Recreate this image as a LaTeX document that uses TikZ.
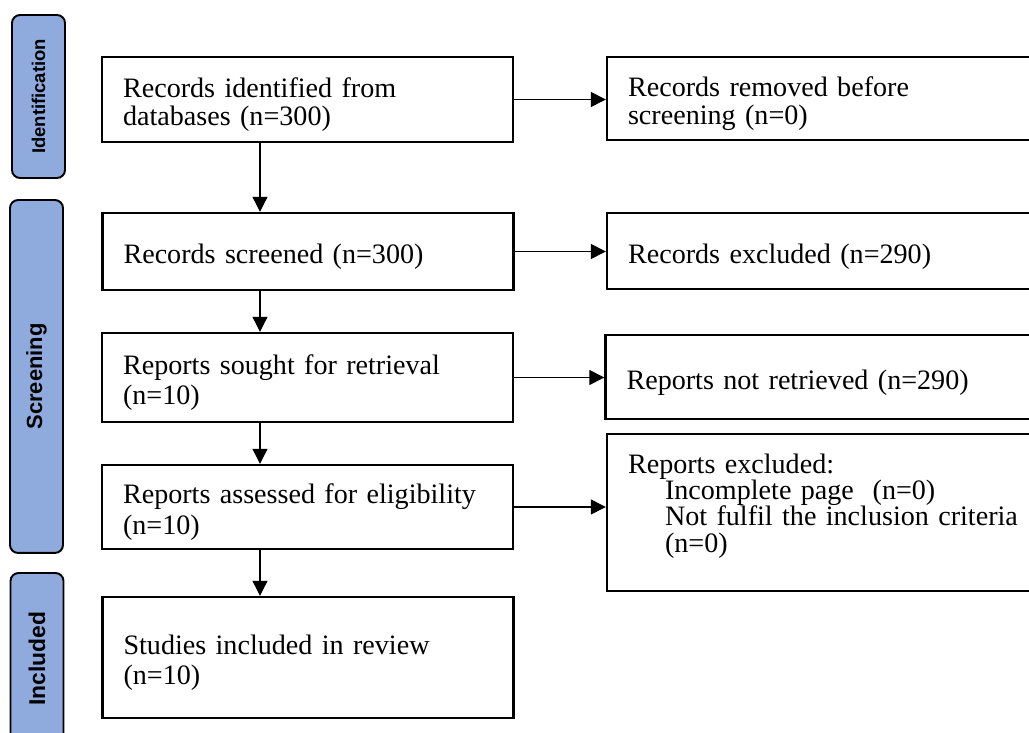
\documentclass[tikz,border=0pt]{standalone}
\usepackage{fontspec}
\setmainfont{Liberation Serif}
\newfontfamily\sidefont{Liberation Sans}
\usetikzlibrary{arrows.meta}
\definecolor{phaseblue}{RGB}{143,170,220}

\begin{document}
\begin{tikzpicture}[x=0.02cm,y=-0.02cm]
                \tikzstyle{box} = [rectangle, draw=black, line width=1.4pt, align=left, inner xsep=0.42cm, inner ysep=0pt, text height=0.6cm, font=\fontsize{16}{17.5}\selectfont]
                \tikzstyle{leftbox} = [box, text width=7.38cm]
                \tikzstyle{rightbox} = [box, text width=7.82cm]
                \tikzstyle{phase} = [rectangle, rounded corners=0.16cm, draw=black, line width=1.1pt, fill=phaseblue, rotate=90, minimum height=1.06cm, inner sep=0pt]
                \tikzstyle{arrow} = [line width=0.7pt, -{Triangle[length=0.3cm, width=0.3cm]}]
                \useasboundingbox (0,0) rectangle (1029,733);

                % phases
                \node (phaseid) [phase, minimum width=3.26cm, font=\sidefont\bfseries\fontsize{10.5}{12}\selectfont] at (38.5,96.5) {Identification};
                \node (phasescr) [phase, minimum width=7.06cm, font=\sidefont\bfseries\fontsize{12.5}{14}\selectfont] at (36.5,376.5) {Screening};
                \node (phaseinc) [phase, minimum width=3.44cm, font=\sidefont\bfseries\fontsize{13}{15}\selectfont] at (37,659) {Included};

                % left column
                \node (recid) [leftbox, minimum height=1.7cm, font=\fontsize{16}{16}\selectfont] at (307.5,99.5) {Records identified from\\databases (n=300)};
                \node (recscr) [leftbox, minimum height=1.54cm] at (308,251.5) {Records screened (n=300)};
                \node (sought) [leftbox, minimum height=1.78cm] at (307.5,377.5) {Reports sought for retrieval\\(n=10)};
                \node (assessed) [leftbox, minimum height=1.68cm] at (307.5,507) {Reports assessed for eligibility\\(n=10)};
                \node (studies) [leftbox, minimum height=2.42cm] at (308,657.5) {Studies included in review\\(n=10)};

                % right column
                \node (removed) [rightbox, minimum height=1.66cm, font=\fontsize{16}{16}\selectfont] at (823.5,98.5) {Records removed before\\screening (n=0)};
                \node (recexcl) [rightbox, minimum height=1.52cm] at (823.5,251) {Records excluded (n=290)};
                \node (notretr) [rightbox, minimum height=1.68cm] at (822,377) {Reports not retrieved (n=290)};
                \node (repexcl) [rightbox, minimum height=3.14cm, text depth=2.17cm, font=\fontsize{16}{15}\selectfont] at (823.5,512.5) {Reports excluded:\\
                \hspace*{0.74cm}Incomplete page\ \ (n=0)\\
                \hspace*{0.74cm}Not fulfil the inclusion criteria\\
                \hspace*{0.74cm}(n=0)};

                \coordinate (spine) at (260,0);

                \draw [arrow] (recid.south -| spine) -- (recscr.north -| spine);
                \draw [arrow] (recscr.south -| spine) -- (sought.north -| spine);
                \draw [arrow] (sought.south -| spine) -- (assessed.north -| spine);
                \draw [arrow] (assessed.south -| spine) -- (studies.north -| spine);

                \draw [arrow] (recid.east) -- (recid.east -| removed.west);
                \draw [arrow] (recscr.east) -- (recscr.east -| recexcl.west);
                \draw [arrow] (sought.east) -- (sought.east -| notretr.west);
                \draw [arrow] (assessed.east) -- (assessed.east -| repexcl.west);

            \end{tikzpicture}
\end{document}
